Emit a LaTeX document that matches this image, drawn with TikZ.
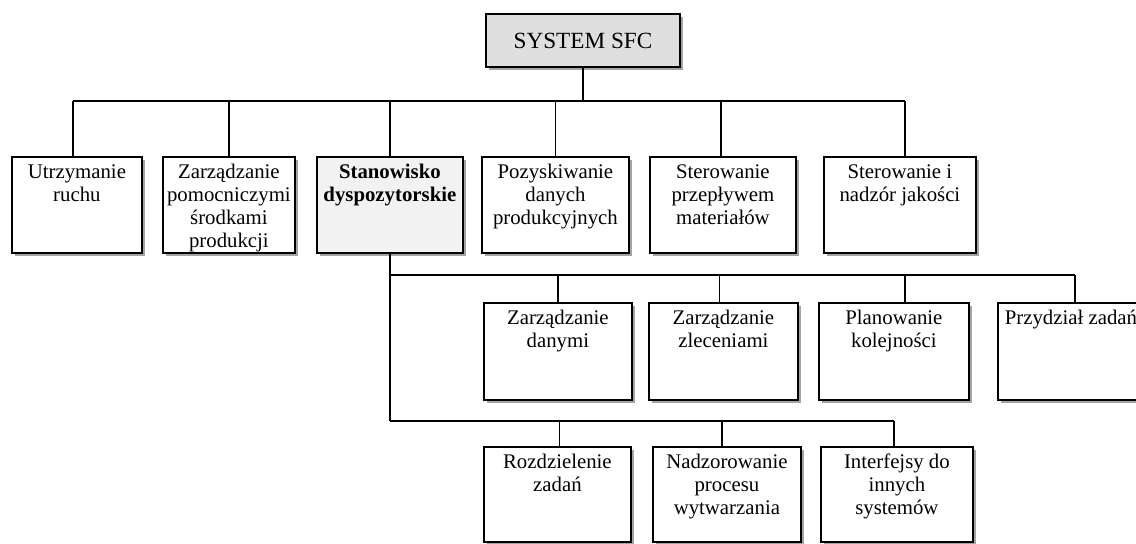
\documentclass[tikz,border=0pt]{standalone}
\usepackage{fontspec}
\setmainfont{Liberation Serif}
\usetikzlibrary{shadows}

% box with top-aligned, centred text; corners given in pixel units
\newcommand\orgbox[7]{%
  \node[#1, anchor=north west] (#2) at (#3,#4)
    {\parbox[c][\dimexpr(#6pt-#4pt)/2\relax][t]{\dimexpr(#5pt-#3pt)/2\relax}%
      {\centering\rule{0pt}{11pt}#7\par}};}

\tikzset{
  unit/.style={draw, line width=0.9pt, fill=white, inner sep=0pt,
    font=\fontsize{10.4}{11.5}\selectfont,
    drop shadow={shadow xshift=1.6pt, shadow yshift=-1.6pt,
      opacity=0.55, fill=black!65}},
  keyunit/.style={unit, fill=gray!10, font=\fontsize{10.4}{11.5}\selectfont\bfseries},
  rootunit/.style={unit, fill=gray!25, font=\fontsize{11.6}{13}\selectfont,
    minimum width=97pt, minimum height=26.5pt},
  link/.style={line width=0.9pt},
}

\begin{document}
\begin{tikzpicture}[x=0.5pt, y=-0.5pt]
\useasboundingbox (0,0) rectangle (1136,543);
\clip (0,0) rectangle (1136,543);

% bus levels
\coordinate (bus1) at (0,101);
\coordinate (bus2) at (0,275);
\coordinate (bus3) at (0,421);

% root
\node[rootunit] (sfc) at (583,40.5) {SYSTEM SFC};

% first level
\orgbox{unit}{b1}{11}{156}{141}{252}{Utrzymanie\\ruchu}
\orgbox{unit}{b2}{162}{156}{294}{252}{Zarządzanie\\pomocniczymi\\środkami\\produkcji}
\orgbox{keyunit}{b3}{316}{156}{462}{252}{Stanowisko\\dyspozytorskie}
\orgbox{unit}{b4}{481}{156}{628}{252}{Pozyskiwanie\\danych\\produkcyjnych}
\orgbox{unit}{b5}{649}{156}{795}{252}{Sterowanie\\przepływem\\materiałów}
\orgbox{unit}{b6}{823}{156}{975}{252}{Sterowanie i\\nadzór jakości}

% second level, upper row
\orgbox{unit}{c1}{483}{302}{631}{399}{Zarządzanie\\danymi}
\orgbox{unit}{c2}{648}{302}{797}{399}{Zarządzanie\\zleceniami}
\orgbox{unit}{c3}{818}{302}{968}{399}{Planowanie\\kolejności}
\orgbox{unit}{c4}{997}{302}{1143}{399}{Przydział zadań}

% second level, lower row
\orgbox{unit}{d1}{483}{446}{630}{541}{Rozdzielenie\\zadań}
\orgbox{unit}{d2}{652}{446}{800}{541}{Nadzorowanie\\procesu\\wytwarzania}
\orgbox{unit}{d3}{820}{446}{972}{541}{Interfejsy do\\innych\\systemów}

% connection points on the box tops
\foreach \n/\dx in {b1/-2, b2/0, b3/0, b4/0, b5/-1, b6/2.5,
                    c1/0, c2/-2, c3/5.5, c4/2,
                    d1/1, d2/-2.5, d3/-1.5}
  \coordinate (\n t) at ([xshift=\dx pt]\n.north);

% root to first level
\draw[link] (sfc.south) -- (sfc.south |- bus1);
\draw[link] (b1t |- bus1) -- (b6t |- bus1);
\foreach \n in {b1,b2,b3,b4,b5,b6}
  \draw[link] (\n t) -- (\n t |- bus1);

% dispatching station to its functions
\draw[link] (b3.south) -- (b3.south |- bus3);
\draw[link] (b3.south |- bus2) -- (c4t |- bus2);
\foreach \n in {c1,c2,c3,c4}
  \draw[link] (\n t) -- (\n t |- bus2);
\draw[link] (b3.south |- bus3) -- (d3t |- bus3);
\foreach \n in {d1,d2,d3}
  \draw[link] (\n t) -- (\n t |- bus3);
\end{tikzpicture}
\end{document}
